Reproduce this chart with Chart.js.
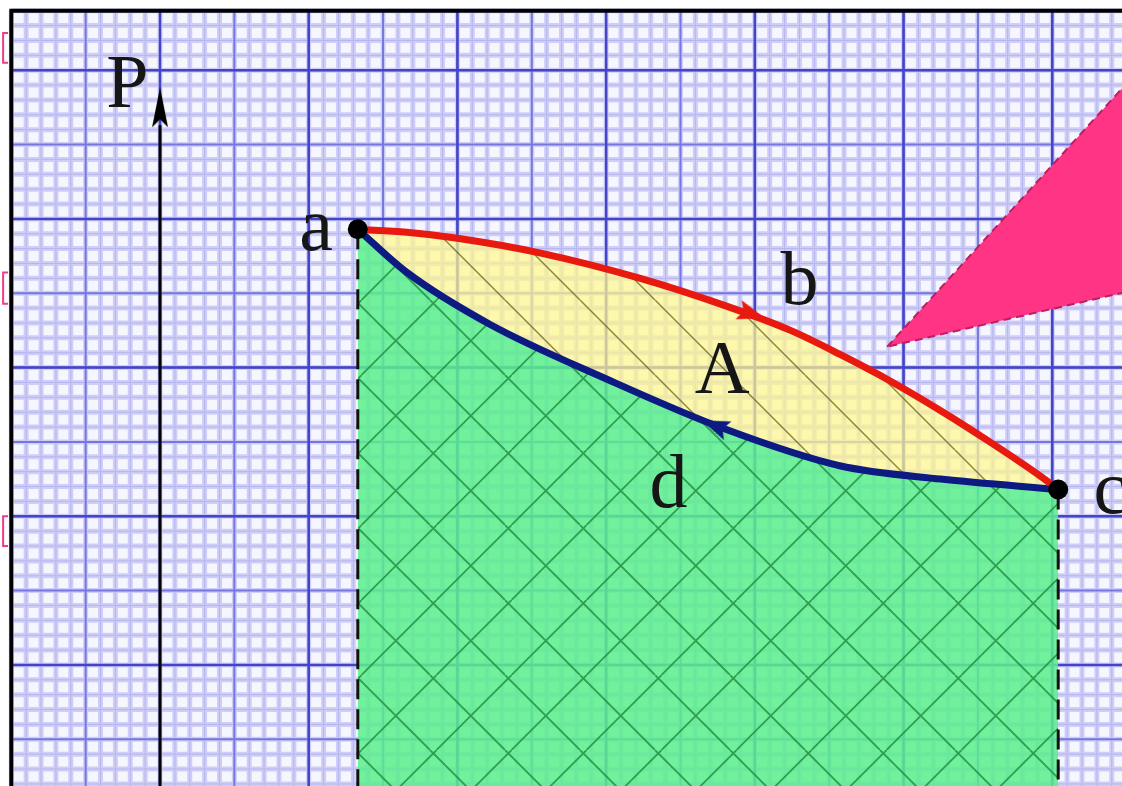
<!DOCTYPE html>
<html>
<head>
<meta charset="utf-8">
<script src="https://cdn.jsdelivr.net/npm/chart.js@4.4.1/dist/chart.umd.min.js"></script>
<style>
  html, body { margin: 0; padding: 0; background: #fff; overflow: hidden; }
  canvas { display: block; }
</style>
</head>
<body>
<canvas id="pv" width="1122" height="786"></canvas>
<script>
// P-V diagram on graph paper, units = one small square of the paper

// process a -> b -> c (red, on top)
const redV = [13.3, 16.6, 20.0, 25.6, 32.3, 37.9, 42.4, 45.7, 49.1, 52.5, 55.8, 59.2, 60.4];
const redP = [39.3, 39.1, 38.7, 37.7, 36.0, 34.2, 32.5, 30.9, 29.1, 27.1, 25.0, 22.7, 21.8];

// process c -> d -> a (blue, underneath)
const blueV = [13.3, 16.6, 22.2, 30.1, 37.9, 45.7, 52.5, 60.4];
const blueP = [39.3, 36.4, 32.9, 29.2, 25.9, 23.4, 22.5, 21.8];

// end states a and c
const stateV = [13.3, 60.4];
const stateP = [39.3, 21.8];

// P axis
const axisV = [0, 0];
const axisP = [0, 46.3];

// arrow heads: P axis, on a->b->c, on c->d->a
const arrowV = [0, 39.8, 37.3];
const arrowP = [47.5, 33.6, 26.1];

// pink pointer (callout tail)
const pointerV = [48.9, 65.9, 65.9, 48.9];
const pointerP = [31.4, 50.1, 35.3, 31.4];

// text labels
const labelText = ['P', 'a', 'b', 'A', 'd', 'c'];
const labelV = [-2.2, 10.5, 43.0, 37.8, 34.2, 63.9];
const labelP = [47.5, 37.9, 34.3, 28.3, 20.6, 20.2];

// pink marks left of the paper
const markP = [[52.5, 50.5], [36.4, 34.3], [20.0, 18.0]];

const X_MIN = -10.76, X_MAX = 64.69, Y_MIN = 1.86, Y_MAX = 54.72;
const PAPER_LEFT = -10, PAPER_TOP = 54;

const canvas = document.getElementById('pv');
const ctx = canvas.getContext('2d');

function hatch(fill, stroke, width, cross) {
    const t = document.createElement('canvas');
    t.width = 75; t.height = 75;
    const g = t.getContext('2d');
    g.fillStyle = fill;
    g.fillRect(0, 0, 75, 75);
    g.strokeStyle = stroke;
    g.lineWidth = width;
    g.beginPath();
    for (let k = -2; k <= 2; k++) {
        const c = 55 + 75 * k;
        g.moveTo(c, 0); g.lineTo(c + 75, 75);
        if (cross) {
            const d = 61.6 + 75 * k;
            g.moveTo(d, 0); g.lineTo(d - 75, 75);
        }
    }
    g.stroke();
    return ctx.createPattern(t, 'repeat');
}

function head(color, w, h) {
    const t = document.createElement('canvas');
    t.width = w; t.height = h;
    const g = t.getContext('2d');
    g.fillStyle = color;
    g.beginPath();
    g.moveTo(w / 2, 0);
    g.lineTo(w, h);
    g.lineTo(w / 2, h * 0.8);
    g.lineTo(0, h);
    g.closePath();
    g.fill();
    return t;
}

const greenFill = hatch('rgba(90,240,140,0.85)', 'rgba(30,140,60,0.8)', 1.8, true);
const yellowFill = hatch('rgba(255,248,140,0.72)', 'rgba(100,100,30,0.75)', 1.5, false);

const RED = 'rgb(232,25,15)';
const BLUE = 'rgb(12,26,130)';

const pts = (vs, ps) => vs.map((v, i) => ({ x: v, y: ps[i] }));

// graph paper behind everything
const graphPaper = {
    id: 'graphPaper',
    beforeDraw(chart) {
        const { ctx, width, height } = chart;
        const x = chart.scales.x, y = chart.scales.y;
        const left = x.getPixelForValue(PAPER_LEFT);
        const top = y.getPixelForValue(PAPER_TOP);
        ctx.save();
        ctx.fillStyle = '#fff';
        ctx.fillRect(0, 0, width, height);
        ctx.fillStyle = '#f6f6ff';
        ctx.fillRect(left, top, width - left, height - top);

        const vs = [], hs = [];
        for (let i = PAPER_LEFT; i <= Math.ceil(X_MAX); i++) vs.push(i);
        for (let j = Math.floor(Y_MIN); j <= PAPER_TOP; j++) hs.push(j);
        function pass(keep, color, w) {
            ctx.strokeStyle = color;
            ctx.lineWidth = w;
            ctx.beginPath();
            vs.filter(keep).forEach(i => {
                const px = x.getPixelForValue(i);
                ctx.moveTo(px, top); ctx.lineTo(px, height);
            });
            hs.filter(keep).forEach(j => {
                const py = y.getPixelForValue(j);
                ctx.moveTo(left, py); ctx.lineTo(width, py);
            });
            ctx.stroke();
        }
        pass(() => true, 'rgb(206,206,248)', 5);
        pass(() => true, 'rgb(182,182,238)', 1);
        pass(i => i % 5 === 0, 'rgb(118,118,224)', 2);
        pass(i => i % 10 === 0, 'rgb(68,68,200)', 2.5);

        // paper edge
        ctx.strokeStyle = '#000';
        ctx.lineWidth = 4;
        ctx.beginPath();
        ctx.moveTo(left, height);
        ctx.lineTo(left, top);
        ctx.lineTo(width, top);
        ctx.stroke();

        // pink marks
        ctx.strokeStyle = 'rgb(240,60,130)';
        ctx.lineWidth = 2;
        const mx1 = x.getPixelForValue(-10.55), mx2 = x.getPixelForValue(-10.22);
        markP.forEach(([p1, p2]) => {
            const y1 = y.getPixelForValue(p1), y2 = y.getPixelForValue(p2);
            ctx.beginPath();
            ctx.moveTo(mx2, y1); ctx.lineTo(mx1, y1); ctx.lineTo(mx1, y2); ctx.lineTo(mx2, y2);
            ctx.stroke();
        });
        ctx.restore();
    }
};

// letters on top
const letters = {
    id: 'letters',
    afterDatasetsDraw(chart) {
        const { ctx } = chart;
        const x = chart.scales.x, y = chart.scales.y;
        ctx.save();
        ctx.font = '76px "Liberation Serif", "DejaVu Serif", serif';
        ctx.textAlign = 'center';
        ctx.textBaseline = 'alphabetic';
        ctx.fillStyle = '#161616';
        labelText.forEach((t, k) => {
            ctx.fillText(t, x.getPixelForValue(labelV[k]), y.getPixelForValue(labelP[k]));
        });
        ctx.restore();
    }
};

new Chart(ctx, {
    type: 'line',
    data: {
        datasets: [
            {
                label: 'a-b-c',
                data: pts(redV, redP),
                borderColor: RED,
                borderWidth: 7,
                backgroundColor: yellowFill,
                fill: { target: 1, above: yellowFill, below: yellowFill },
                cubicInterpolationMode: 'monotone',
                pointRadius: 0,
                order: 3
            },
            {
                label: 'c-d-a',
                data: pts(blueV, blueP),
                borderColor: BLUE,
                borderWidth: 7,
                backgroundColor: greenFill,
                fill: 'start',
                cubicInterpolationMode: 'monotone',
                pointRadius: 0,
                order: 4
            },
            {
                label: 'Va',
                data: pts([stateV[0], stateV[0]], [stateP[0], 0]),
                borderColor: '#111',
                borderWidth: 3,
                borderDash: [20, 10],
                pointRadius: 0,
                fill: false,
                order: 5
            },
            {
                label: 'Vc',
                data: pts([stateV[1], stateV[1]], [stateP[1], 0]),
                borderColor: '#111',
                borderWidth: 3,
                borderDash: [20, 10],
                pointRadius: 0,
                fill: false,
                order: 5
            },
            {
                label: 'P axis',
                data: pts(axisV, axisP),
                borderColor: '#000',
                borderWidth: 3,
                pointRadius: 0,
                fill: false,
                order: 6
            },
            {
                label: 'states',
                data: pts(stateV, stateP),
                showLine: false,
                pointRadius: 10,
                pointBackgroundColor: '#000',
                pointBorderWidth: 0,
                order: 1
            },
            {
                label: 'arrows',
                data: pts(arrowV, arrowP),
                showLine: false,
                pointRadius: 10,
                pointStyle: [head('#000', 16, 40), head(RED, 20, 28), head(BLUE, 20, 28)],
                rotation: [0, 108, 292],
                order: 2
            },
            {
                label: 'pointer',
                data: pts(pointerV, pointerP),
                borderColor: 'rgb(190,30,95)',
                borderWidth: 2,
                borderDash: [8, 5],
                backgroundColor: 'rgb(255,52,132)',
                fill: 'shape',
                tension: 0,
                pointRadius: 0,
                order: 0
            }
        ]
    },
    options: {
        responsive: false,
        animation: false,
        events: [],
        layout: { padding: 0, autoPadding: false },
        plugins: {
            legend: { display: false },
            tooltip: { enabled: false },
            filler: { drawTime: 'beforeDatasetsDraw' }
        },
        scales: {
            x: { type: 'linear', min: X_MIN, max: X_MAX, display: false },
            y: { type: 'linear', min: Y_MIN, max: Y_MAX, display: false }
        }
    },
    plugins: [graphPaper, letters]
});
</script>
</body>
</html>
